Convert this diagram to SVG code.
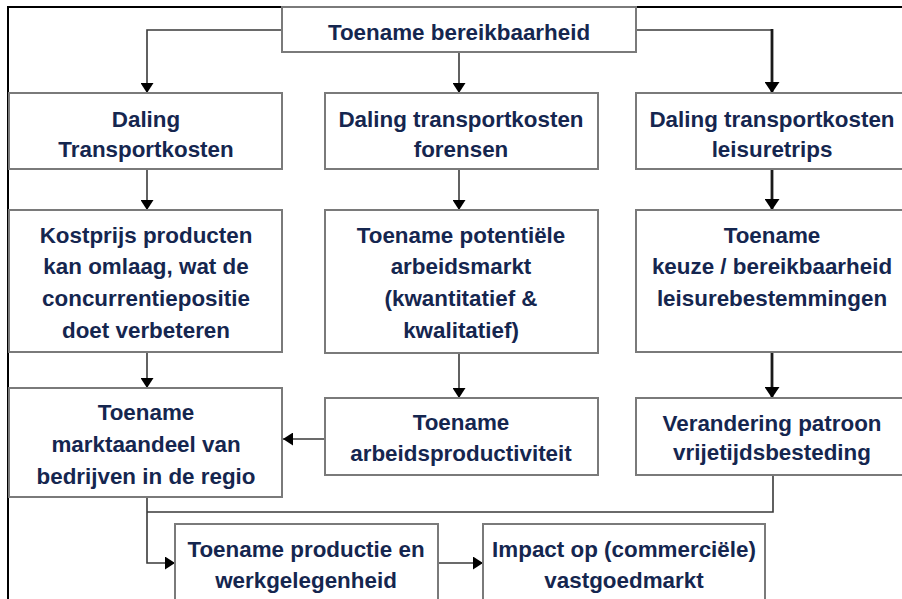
<svg xmlns="http://www.w3.org/2000/svg" width="902" height="599" viewBox="0 0 902 599">
<defs>
<style>
.box{fill:#ffffff;stroke:#7a7a7a;stroke-width:2}
.t{font-family:"Liberation Sans",Arial,sans-serif;font-weight:bold;font-size:22.4px;fill:#15264f;text-anchor:middle}
.c{fill:none;stroke:#3a3a3a;stroke-width:1.6}
.ck{fill:none;stroke:#1a1a1a;stroke-width:2.8}
.frame{fill:none;stroke:#000;stroke-width:2}
</style>
<marker id="ah" markerUnits="userSpaceOnUse" markerWidth="10" markerHeight="13" viewBox="0 0 10 13" refX="10" refY="6.5" orient="auto">
<path d="M0,0 L10,6.5 L0,13 z" fill="#000"/>
</marker>
<marker id="ahk" markerUnits="userSpaceOnUse" markerWidth="11" markerHeight="15" viewBox="0 0 11 15" refX="11" refY="7.5" orient="auto">
<path d="M0,0 L11,7.5 L0,15 z" fill="#000"/>
</marker>
</defs>
<rect width="902" height="599" fill="#ffffff"/>
<path class="frame" d="M8,599 V7 H902"/>

<g id="connectors">
<path class="c" d="M282,30 H147 V93" marker-end="url(#ah)"/>
<path class="c" d="M459,52 V93" marker-end="url(#ah)"/>
<path class="c" d="M636,30 H772"/>
<path class="ck" d="M772,29 V93" marker-end="url(#ahk)"/>
<path class="c" d="M147,169 V210" marker-end="url(#ah)"/>
<path class="c" d="M147,352 V388" marker-end="url(#ah)"/>
<path class="c" d="M459,169 V210" marker-end="url(#ah)"/>
<path class="c" d="M459,353 V398" marker-end="url(#ah)"/>
<path class="ck" d="M772,169 V210" marker-end="url(#ahk)"/>
<path class="ck" d="M772,352 V398" marker-end="url(#ahk)"/>
<path class="c" d="M325,439 H283" marker-end="url(#ah)"/>
<path class="c" d="M147,497 V563 H175" marker-end="url(#ah)"/>
<path class="c" d="M773,475 V512 H147"/>
<path class="c" d="M438,563 H483" marker-end="url(#ah)"/>
</g>

<g id="n-bereikbaarheid">
<rect class="box" x="282" y="7" width="354" height="45"/>
<text class="t" x="459" y="40">Toename bereikbaarheid</text>
</g>

<g id="n-daling-transportkosten">
<rect class="box" x="9" y="93" width="273" height="76"/>
<text class="t" x="146" y="127">Daling</text>
<text class="t" x="146" y="157">Transportkosten</text>
</g>

<g id="n-daling-forensen">
<rect class="box" x="325" y="93" width="273" height="76"/>
<text class="t" x="461" y="127">Daling transportkosten</text>
<text class="t" x="461" y="157">forensen</text>
</g>

<g id="n-daling-leisure">
<rect class="box" x="636" y="93" width="276" height="76"/>
<text class="t" x="772" y="127">Daling transportkosten</text>
<text class="t" x="772" y="157">leisuretrips</text>
</g>

<g id="n-kostprijs">
<rect class="box" x="9" y="210" width="273" height="142"/>
<text class="t" x="146" y="243">Kostprijs producten</text>
<text class="t" x="146" y="274">kan omlaag, wat de</text>
<text class="t" x="146" y="306">concurrentiepositie</text>
<text class="t" x="146" y="338">doet verbeteren</text>
</g>

<g id="n-arbeidsmarkt">
<rect class="box" x="325" y="210" width="273" height="143"/>
<text class="t" x="461" y="243">Toename potentiële</text>
<text class="t" x="461" y="274">arbeidsmarkt</text>
<text class="t" x="461" y="306">(kwantitatief &amp;</text>
<text class="t" x="461" y="338">kwalitatief)</text>
</g>

<g id="n-keuze">
<rect class="box" x="636" y="210" width="276" height="142"/>
<text class="t" x="772" y="243">Toename</text>
<text class="t" x="772" y="274">keuze / bereikbaarheid</text>
<text class="t" x="772" y="306">leisurebestemmingen</text>
</g>

<g id="n-marktaandeel">
<rect class="box" x="9" y="388" width="273" height="109"/>
<text class="t" x="146" y="420">Toename</text>
<text class="t" x="146" y="452">marktaandeel van</text>
<text class="t" x="146" y="484">bedrijven in de regio</text>
</g>

<g id="n-arbeidsproductiviteit">
<rect class="box" x="325" y="398" width="273" height="77"/>
<text class="t" x="461" y="430">Toename</text>
<text class="t" x="461" y="461">arbeidsproductiviteit</text>
</g>

<g id="n-verandering">
<rect class="box" x="636" y="398" width="276" height="77"/>
<text class="t" x="772" y="431">Verandering patroon</text>
<text class="t" x="772" y="460">vrijetijdsbesteding</text>
</g>

<g id="n-productie">
<rect class="box" x="175" y="524" width="263" height="90"/>
<text class="t" x="306" y="557">Toename productie en</text>
<text class="t" x="306" y="588">werkgelegenheid</text>
</g>

<g id="n-impact">
<rect class="box" x="483" y="524" width="282" height="90"/>
<text class="t" x="624" y="557">Impact op (commerciële)</text>
<text class="t" x="624" y="588">vastgoedmarkt</text>
</g>
</svg>
